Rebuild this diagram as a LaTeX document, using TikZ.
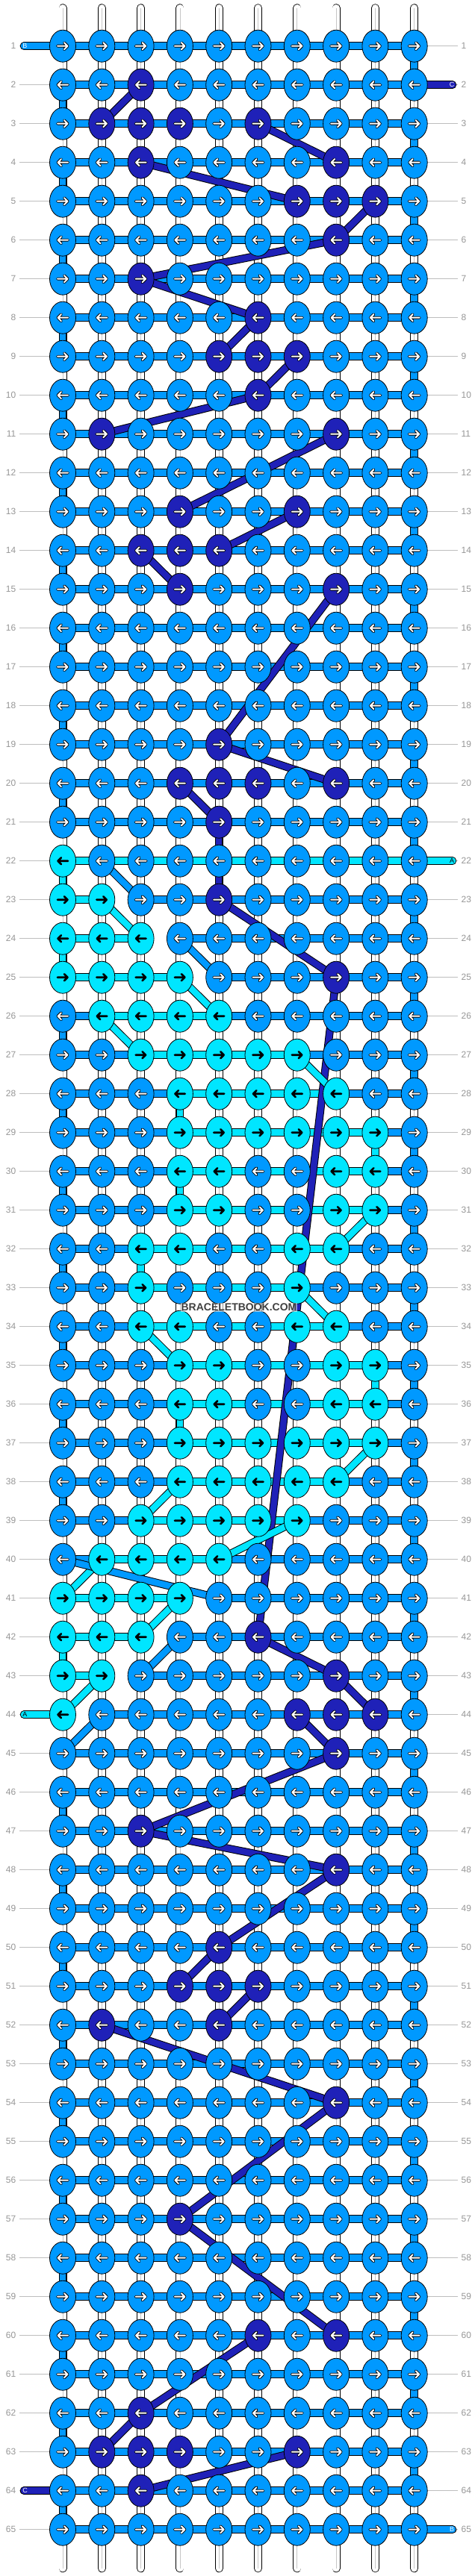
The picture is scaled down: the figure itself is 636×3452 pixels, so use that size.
\documentclass[tikz,border=0pt]{standalone}
\usepackage{fontspec}
\setmainfont{Liberation Sans}
\usetikzlibrary{shapes.geometric}

\definecolor{threadB}{RGB}{0,153,255}
\definecolor{threadC}{RGB}{31,33,184}
\definecolor{threadA}{RGB}{0,230,255}
\definecolor{labelgrey}{RGB}{150,150,150}
\definecolor{guidegrey}{RGB}{190,190,190}

\tikzset{
  thread/.style={draw=black, line width=1pt, double=#1, double distance=8.5pt},
  warp/.style={draw=black, line width=0.8pt, double=white, double distance=9.4pt, line cap=round},
  warpcore/.style={draw=gray!45, line width=0.7pt},
  guide/.style={draw=guidegrey, line width=0.9pt},
  knotnode/.style={ellipse, draw=black, line width=0.8pt, minimum width=35pt, minimum height=43pt, inner sep=0pt},
  knot l/.style={fill=threadB},
  knot d/.style={fill=threadC},
  knot a/.style={fill=threadA},
  arrow l/.style={arrow back/.style={draw=black, line width=3.9pt}, arrow front/.style={draw=white, line width=2pt}},
  arrow d/.style={arrow l},
  arrow a/.style={arrow back/.style={draw=black, line width=2.6pt}, arrow front/.style={draw=none}},
  knotarrow/.pic={
    \draw[arrow back, line cap=round, line join=round] (-7,0) -- (6.5,0) (2,-4.5) -- (6.5,0) -- (2,4.5);
    \draw[arrow front, line cap=round, line join=round] (-7,0) -- (6.5,0) (2,-4.5) -- (6.5,0) -- (2,4.5);
  },
  rowlabel/.style={text=labelgrey, font=\fontsize{12}{12}\selectfont, inner sep=0pt},
  endlabel/.style={font=\fontsize{9}{9}\selectfont, inner sep=0pt, text=#1},
}

\begin{document}
\begin{tikzpicture}[x=1pt, y=-1pt]
    \useasboundingbox (0,0) rectangle (636,3452);

    % Knot grid: 65 rows, 10 columns
    \foreach \r in {1,...,65} {
      \foreach \c in {1,...,10}
        \coordinate (k-\r-\c) at ({84+52.3*(\c-1)},{61.7+52*(\r-1)});
      \coordinate (gl-\r) at (26,{61.7+52*(\r-1)});
      \coordinate (gr-\r) at (613,{61.7+52*(\r-1)});
    }

    % Row guide lines
    \foreach \r in {1,...,65} {
      \draw[guide] (gl-\r) -- (k-\r-1);
      \draw[guide] (k-\r-10) -- (gr-\r);
    }

    % White warp strings
    \foreach \c in {1,...,10} {
      \draw[warp] ([yshift=51pt]k-1-\c) -- ([yshift=-52pt]k-65-\c);
      \draw[warpcore] ([yshift=51pt]k-1-\c) -- ([yshift=-52pt]k-65-\c);
    }

    % Turns of the carriers between rows
    \foreach \r [evaluate=\r as \s using int(\r+1)] in {1,3,...,63}
      \draw[thread=threadB] (k-\r-10) -- (k-\s-10);
    \foreach \r [evaluate=\r as \s using int(\r+1)] in {2,4,...,20,26,28,...,38,46,48,...,64}
      \draw[thread=threadB] (k-\r-1) -- (k-\s-1);
    \foreach \c/\r [evaluate=\r as \s using int(\r+1)] in {1/22,1/24,1/42,4/28,4/30,4/36,9/29,9/35,3/32}
      \draw[thread=threadA] (k-\r-\c) -- (k-\s-\c);

    % Horizontal carriers in each row
    \foreach \r in {1,...,22,26,27,...,40,45,46,...,65}
      \draw[thread=threadB] (k-\r-1) -- (k-\r-10);
    \foreach \r/\c in {23/3,24/4,25/5,41/5,42/4,43/3,44/2}
      \draw[thread=threadB] (k-\r-\c) -- (k-\r-10);
    \foreach \r/\a/\b in {22/1/10,23/1/2,24/1/3,25/1/4,26/2/5,27/3/7,28/4/8,29/4/9,30/4/9,
        31/4/9,32/3/8,33/3/7,34/3/8,35/4/9,36/4/9,37/4/9,38/4/8,39/3/7,40/2/5,41/1/4,42/1/3,43/1/2}
      \draw[thread=threadA] (k-\r-\a) -- (k-\r-\b);

    % Loose ends
    \coordinate (endB-in) at ([xshift=-52pt]k-1-1);
    \coordinate (endC-in) at ([xshift=51.3pt]k-2-10);
    \coordinate (endA-in) at ([xshift=51.3pt]k-22-10);
    \coordinate (endA-out) at ([xshift=-52pt]k-44-1);
    \coordinate (endC-out) at ([xshift=-52pt]k-64-1);
    \coordinate (endB-out) at ([xshift=51.3pt]k-65-10);
    \draw[thread=threadB, line cap=round] (k-1-1) -- (endB-in);
    \draw[thread=threadC, line cap=round] (k-2-10) -- (endC-in);
    \draw[thread=threadA, line cap=round] (k-22-10) -- (endA-in);
    \draw[thread=threadA, line cap=round] (k-44-1) -- (endA-out);
    \draw[thread=threadC, line cap=round] (k-64-1) -- (endC-out);
    \draw[thread=threadB, line cap=round] (k-65-10) -- (endB-out);

    % Dark thread jumping between rows
    \foreach \a/\b in {2-3/3-2,3-6/4-8,4-3/5-7,5-9/6-8,6-8/7-3,7-3/8-6,8-6/9-5,9-7/10-6,10-6/11-2,
        11-8/13-4,13-7/14-5,14-3/15-4,15-8/19-5,19-5/20-8,20-4/21-5,21-5/23-5,23-5/25-8,25-8/42-6,
        42-6/43-8,43-8/44-9,44-7/45-8,45-8/47-3,47-3/48-8,48-8/50-5,50-5/51-4,51-6/52-5,52-2/54-8,
        54-8/57-4,57-4/60-8,60-6/62-3,62-3/63-2,63-7/64-3}
      \draw[thread=threadC] (k-\a) -- (k-\b);

    % Cyan and light threads jumping between rows
    \foreach \a/\b in {23-2/24-3,25-4/26-5,26-2/27-3,27-7/28-8,31-9/32-8,33-7/34-8,34-3/35-4,
        37-9/38-8,38-4/39-3,39-7/40-5,40-2/41-1,41-4/42-3,43-2/44-1}
      \draw[thread=threadA] (k-\a) -- (k-\b);
    \foreach \a/\b in {22-2/23-3,24-4/25-5,40-1/41-5,42-4/43-3,44-2/45-1}
      \draw[thread=threadB] (k-\a) -- (k-\b);

    % Knots: l = light blue, d = dark blue, a = cyan
    \foreach \r/\row in {
        1/{l,l,l,l,l,l,l,l,l,l},  2/{l,l,d,l,l,l,l,l,l,l},  3/{l,d,d,d,l,d,l,l,l,l},
        4/{l,l,d,l,l,l,l,d,l,l},  5/{l,l,l,l,l,l,d,d,d,l},  6/{l,l,l,l,l,l,l,d,l,l},
        7/{l,l,d,l,l,l,l,l,l,l},  8/{l,l,l,l,l,d,l,l,l,l},  9/{l,l,l,l,d,d,d,l,l,l},
        10/{l,l,l,l,l,d,l,l,l,l}, 11/{l,d,l,l,l,l,l,d,l,l}, 12/{l,l,l,l,l,l,l,l,l,l},
        13/{l,l,l,d,l,l,d,l,l,l}, 14/{l,l,d,d,d,l,l,l,l,l}, 15/{l,l,l,d,l,l,l,d,l,l},
        16/{l,l,l,l,l,l,l,l,l,l}, 17/{l,l,l,l,l,l,l,l,l,l}, 18/{l,l,l,l,l,l,l,l,l,l},
        19/{l,l,l,l,d,l,l,l,l,l}, 20/{l,l,l,d,d,d,l,d,l,l}, 21/{l,l,l,l,d,l,l,l,l,l},
        22/{a,l,l,l,l,l,l,l,l,l}, 23/{a,a,l,l,d,l,l,l,l,l}, 24/{a,a,a,l,l,l,l,l,l,l},
        25/{a,a,a,a,l,l,l,d,l,l}, 26/{l,a,a,a,a,l,l,l,l,l}, 27/{l,l,a,a,a,a,a,l,l,l},
        28/{l,l,l,a,a,a,a,a,l,l}, 29/{l,l,l,a,a,a,a,a,a,l}, 30/{l,l,l,a,a,l,l,a,a,l},
        31/{l,l,l,a,a,l,l,a,a,l}, 32/{l,l,a,a,l,l,a,a,l,l}, 33/{l,l,a,l,l,l,a,l,l,l},
        34/{l,l,a,a,l,l,a,a,l,l}, 35/{l,l,l,a,a,l,l,a,a,l}, 36/{l,l,l,a,a,l,l,a,a,l},
        37/{l,l,l,a,a,a,a,a,a,l}, 38/{l,l,l,a,a,a,a,a,l,l}, 39/{l,l,a,a,a,a,a,l,l,l},
        40/{l,a,a,a,a,l,l,l,l,l}, 41/{a,a,a,a,l,l,l,l,l,l}, 42/{a,a,a,l,l,d,l,l,l,l},
        43/{a,a,l,l,l,l,l,d,l,l}, 44/{a,l,l,l,l,l,d,d,d,l}, 45/{l,l,l,l,l,l,l,d,l,l},
        46/{l,l,l,l,l,l,l,l,l,l}, 47/{l,l,d,l,l,l,l,l,l,l}, 48/{l,l,l,l,l,l,l,d,l,l},
        49/{l,l,l,l,l,l,l,l,l,l}, 50/{l,l,l,l,d,l,l,l,l,l}, 51/{l,l,l,d,d,d,l,l,l,l},
        52/{l,d,l,l,d,l,l,l,l,l}, 53/{l,l,l,l,l,l,l,l,l,l}, 54/{l,l,l,l,l,l,l,d,l,l},
        55/{l,l,l,l,l,l,l,l,l,l}, 56/{l,l,l,l,l,l,l,l,l,l}, 57/{l,l,l,d,l,l,l,l,l,l},
        58/{l,l,l,l,l,l,l,l,l,l}, 59/{l,l,l,l,l,l,l,l,l,l}, 60/{l,l,l,l,l,d,l,d,l,l},
        61/{l,l,l,l,l,l,l,l,l,l}, 62/{l,l,d,l,l,l,l,l,l,l}, 63/{l,d,d,d,l,l,d,l,l,l},
        64/{l,l,d,l,l,l,l,l,l,l}, 65/{l,l,l,l,l,l,l,l,l,l}} {
      \ifodd\r \def\dir{1}\else \def\dir{-1}\fi
      \foreach \k [count=\c] in \row {
        \node[knotnode, knot \k] (n-\r-\c) at (k-\r-\c) {};
        \pic[arrow \k, xscale=\dir] at (k-\r-\c) {knotarrow};
      }
    }

    % Letters on the loose ends
    \node[endlabel=white] (lbl-B-in) at ([xshift=1.5pt]endB-in) {B};
    \node[endlabel=white] (lbl-C-in) at ([xshift=-1pt]endC-in) {C};
    \node[endlabel=black] (lbl-A-in) at ([xshift=-1pt]endA-in) {A};
    \node[endlabel=black] (lbl-A-out) at ([xshift=1.5pt]endA-out) {A};
    \node[endlabel=white] (lbl-C-out) at ([xshift=1.5pt]endC-out) {C};
    \node[endlabel=white] (lbl-B-out) at ([xshift=-1pt]endB-out) {B};

    % Row numbers
    \foreach \r in {1,...,65} {
      \node[rowlabel, anchor=east] (num-l-\r) at ([xshift=-4.5pt]gl-\r) {\r};
      \node[rowlabel, anchor=west] (num-r-\r) at ([xshift=4.5pt]gr-\r) {\r};
    }

    % Watermark
    \node[font=\bfseries\fontsize{14}{14}\selectfont, text=black!75, fill=white, fill opacity=0.55,
      text opacity=1, inner sep=1pt] (mark) at (320,1752) {BRACELETBOOK.COM};
\end{tikzpicture}
\end{document}
